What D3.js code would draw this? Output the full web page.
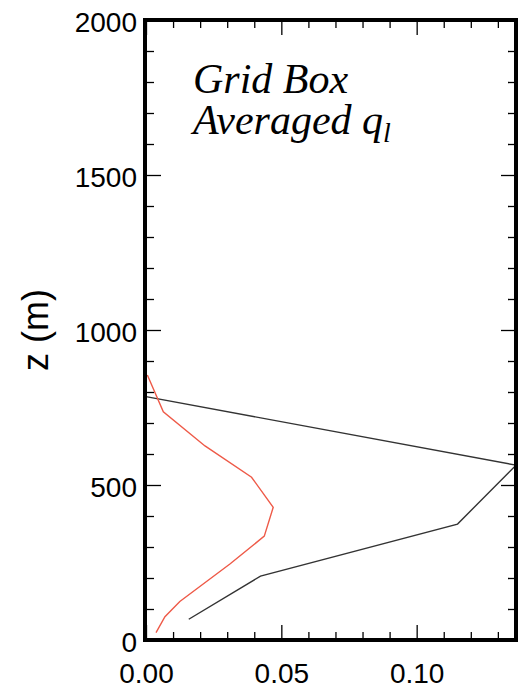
<!DOCTYPE html>
<html>
<head>
<meta charset="utf-8">
<script src="https://cdn.jsdelivr.net/npm/d3@7"></script>
<style>
body { margin: 0; background: #fff; }
.axis text { font-family: "Liberation Sans", Arial, sans-serif; font-size: 28px; fill: #000; }
.axis line { stroke: #000; stroke-width: 1.3; }
.axis path { display: none; }
</style>
</head>
<body>
<div id="container"></div>
<script>
const width = 518;
const height = 691;

// black profile (q_l, z)
const blackQ = [0.0, 0.1367, 0.1151, 0.0423, 0.0158];
const blackZ = [785, 564, 374, 206, 67];

// red profile (grid box averaged)
const redQ = [0.0005, 0.0064, 0.0218, 0.039, 0.047, 0.0437, 0.031, 0.0125, 0.007, 0.0037];
const redZ = [855, 736, 626, 525, 428, 335, 245, 124, 75, 24];

const zTicks = [0, 500, 1000, 1500, 2000];
const qTicks = [0.00, 0.05, 0.10];

const plotL = 146, plotR = 516, plotT = 20, plotB = 640;

const svg = d3.select("#container").append("svg")
    .attr("width", width)
    .attr("height", height);

//----------------------------SCALES----------------------------//
const x = d3.scaleLinear().domain([0, 0.1367]).range([plotL, plotR]);
const y = d3.scaleLinear().domain([0, 2000]).range([plotB, plotT]);

const minorQ = d3.range(0.01, 0.1367, 0.01).filter(v => Math.abs(v - 0.05) > 1e-6 && Math.abs(v - 0.1) > 1e-6);
const minorZ = d3.range(100, 2000, 100).filter(v => v % 500 != 0);

//-----------------------------AXES-----------------------------//
// major with labels
svg.append("g").attr("class", "axis")
    .attr("transform", "translate(" + plotL + ",0)")
    .call(d3.axisLeft(y).tickValues(zTicks).tickFormat(d3.format("d")).tickSize(-15).tickPadding(9))
    .selectAll("text").attr("dy", "0.42em");

svg.append("g").attr("class", "axis")
    .attr("transform", "translate(0," + plotB + ")")
    .call(d3.axisBottom(x).tickValues(qTicks).tickFormat(d3.format(".2f")).tickSize(-15).tickPadding(23));

// right + top major (no labels)
svg.append("g").attr("class", "axis")
    .attr("transform", "translate(" + plotR + ",0)")
    .call(d3.axisRight(y).tickValues(zTicks).tickFormat("").tickSize(-15));
svg.append("g").attr("class", "axis")
    .attr("transform", "translate(0," + plotT + ")")
    .call(d3.axisTop(x).tickValues(qTicks).tickFormat("").tickSize(-15));

// minor ticks all sides
svg.append("g").attr("class", "axis")
    .attr("transform", "translate(" + plotL + ",0)")
    .call(d3.axisLeft(y).tickValues(minorZ).tickFormat("").tickSize(-8));
svg.append("g").attr("class", "axis")
    .attr("transform", "translate(" + plotR + ",0)")
    .call(d3.axisRight(y).tickValues(minorZ).tickFormat("").tickSize(-8));
svg.append("g").attr("class", "axis")
    .attr("transform", "translate(0," + plotB + ")")
    .call(d3.axisBottom(x).tickValues(minorQ).tickFormat("").tickSize(-8));
svg.append("g").attr("class", "axis")
    .attr("transform", "translate(0," + plotT + ")")
    .call(d3.axisTop(x).tickValues(minorQ).tickFormat("").tickSize(-8));

//----------------------------LINES-----------------------------//
const line = d3.line()
    .x(d => x(d[0]))
    .y(d => y(d[1]));

svg.append("path")
    .datum(d3.zip(blackQ, blackZ))
    .attr("d", line)
    .attr("fill", "none")
    .attr("stroke", "#333")
    .attr("stroke-width", 1.4);

svg.append("path")
    .datum(d3.zip(redQ, redZ))
    .attr("d", line)
    .attr("fill", "none")
    .attr("stroke", "#ee5a48")
    .attr("stroke-width", 1.4);

// frame
svg.append("rect")
    .attr("x", plotL - 1).attr("y", plotT)
    .attr("width", plotR - plotL + 1).attr("height", plotB - plotT)
    .attr("fill", "none")
    .attr("stroke", "#000")
    .attr("stroke-width", 4);

// y label
svg.append("text")
    .attr("transform", "translate(48," + 330 + ") rotate(-90)")
    .attr("text-anchor", "middle")
    .style("font-family", "Liberation Sans, Arial, sans-serif")
    .style("font-size", "36px")
    .text("z (m)");

// annotation
const note = svg.append("text")
    .style("font-family", "Liberation Serif, Times New Roman, serif")
    .style("font-style", "italic")
    .style("font-size", "42px");
note.append("tspan").attr("x", 193).attr("y", 93).text("Grid Box");
note.append("tspan").attr("x", 193).attr("y", 134).text("Averaged q");
note.append("tspan").attr("dy", 8).style("font-size", "28px").text("l");
</script>
</body>
</html>
